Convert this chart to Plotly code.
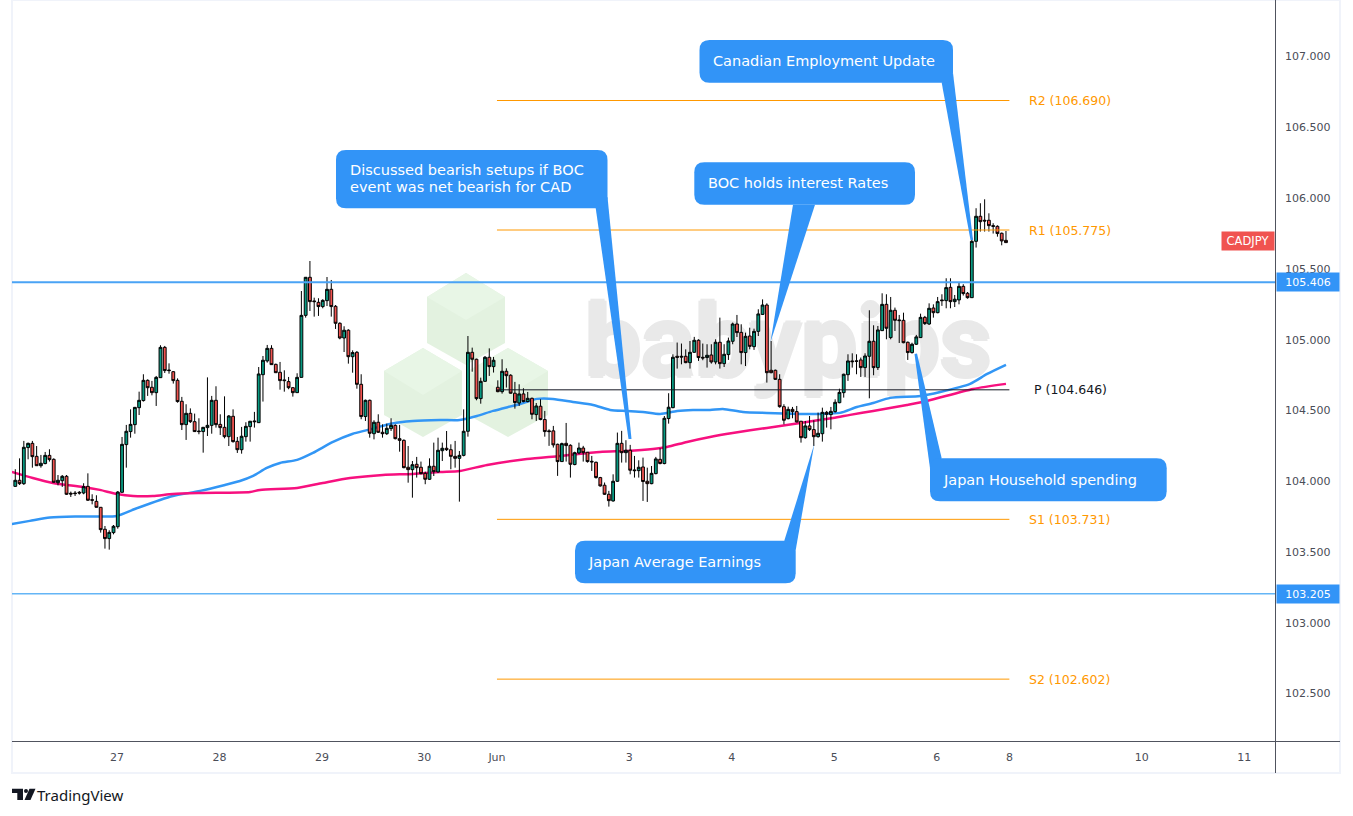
import plotly.graph_objects as go

# CADJPY 1h candles
opens = [
    103.964,104.007,103.983,104.238,104.268,104.176,104.110,104.125,104.183,104.155,
    103.990,104.004,104.035,103.915,103.917,103.922,103.917,103.964,103.870,103.858,
    103.816,103.661,103.595,103.637,103.679,103.922,104.259,104.351,104.400,104.520,
    104.570,104.713,104.664,104.626,104.732,104.946,104.786,104.774,104.713,104.565,
    104.400,104.480,104.421,104.355,104.351,104.379,104.395,104.572,104.402,104.381,
    104.315,104.459,104.282,104.223,104.315,104.386,104.426,104.414,104.753,104.850,
    104.939,104.826,104.770,104.716,104.704,104.661,104.626,104.734,105.172,105.441,
    105.274,105.264,105.234,105.276,105.356,105.236,105.116,105.012,105.067,104.880,
    104.911,104.685,104.457,104.572,104.336,104.417,104.346,104.336,104.372,104.395,
    104.301,104.289,104.099,104.082,104.120,104.099,104.056,104.014,104.106,104.066,
    104.216,104.233,104.223,104.176,104.162,104.183,104.353,104.911,104.862,104.584,
    104.706,104.876,104.810,104.664,104.633,104.777,104.749,104.622,104.553,104.617,
    104.563,104.586,104.471,104.530,104.436,104.356,104.356,104.261,104.139,104.268,
    104.254,104.118,104.200,104.235,104.205,104.141,104.134,104.026,103.972,103.908,
    103.861,104.000,104.268,104.202,104.219,104.080,104.075,104.101,104.000,103.983,
    104.054,104.155,104.125,104.443,104.520,104.883,104.883,104.883,104.838,104.911,
    104.996,104.876,104.874,104.892,104.843,104.982,104.831,104.895,104.989,105.111,
    105.052,104.909,105.026,104.951,105.059,105.179,105.245,104.784,104.784,104.720,
    104.527,104.442,104.508,104.492,104.424,104.308,104.391,104.365,104.315,104.336,
    104.487,104.471,104.492,104.555,104.626,104.753,104.850,104.850,104.857,104.803,
    104.883,104.989,104.803,105.064,105.250,105.015,105.208,105.140,105.137,104.982,
    104.909,104.968,105.015,105.158,105.111,105.224,105.191,105.281,105.276,105.370,
    105.269,105.281,105.377,105.328,105.297,105.695,105.872,105.844,105.844,105.806,
    105.801,105.752,105.702,
]
highs = [
    104.085,104.162,104.285,104.273,104.285,104.249,104.186,104.207,104.226,104.162,
    104.044,104.044,104.044,103.927,103.931,103.931,103.986,104.056,103.908,103.901,
    103.818,103.684,103.654,103.691,103.931,104.313,104.398,104.508,104.525,104.633,
    104.756,104.720,104.709,104.744,104.961,104.956,104.833,104.779,104.727,104.596,
    104.544,104.515,104.478,104.445,104.384,104.734,104.603,104.671,104.473,104.600,
    104.468,104.508,104.313,104.384,104.417,104.426,104.490,104.807,104.885,104.963,
    104.961,104.831,104.843,104.784,104.737,104.666,104.763,105.344,105.443,105.556,
    105.297,105.293,105.286,105.443,105.422,105.245,105.123,105.095,105.074,104.925,
    104.920,104.756,104.577,104.577,104.431,104.473,104.402,104.407,104.445,104.402,
    104.398,104.296,104.249,104.143,104.172,104.139,104.068,104.162,104.273,104.308,
    104.273,104.355,104.261,104.285,104.214,104.508,105.026,104.944,104.866,104.732,
    104.885,104.939,104.878,104.713,104.862,104.798,104.756,104.702,104.685,104.657,
    104.631,104.591,104.553,104.579,104.497,104.367,104.391,104.266,104.273,104.412,
    104.261,104.209,104.273,104.250,104.207,104.179,104.139,104.031,103.991,103.932,
    104.049,104.344,104.356,104.290,104.257,104.179,104.148,104.167,104.096,104.108,
    104.172,104.233,104.461,104.622,104.897,104.980,104.973,104.932,104.991,105.020,
    105.003,104.973,104.968,104.968,105.003,105.156,104.968,105.015,105.121,105.175,
    105.109,105.050,105.085,105.078,105.215,105.285,105.257,104.991,104.789,104.756,
    104.544,104.527,104.525,104.532,104.426,104.426,104.461,104.431,104.485,104.520,
    104.497,104.525,104.579,104.654,104.760,104.897,104.904,104.897,104.874,104.904,
    105.208,105.102,105.097,105.328,105.321,105.302,105.227,105.175,105.191,104.987,
    104.979,105.034,105.184,105.168,105.257,105.250,105.302,105.321,105.434,105.434,
    105.316,105.408,105.392,105.337,105.721,105.929,105.964,105.992,105.893,105.823,
    105.808,105.757,105.768,
]
lows = [
    103.960,103.974,103.974,104.155,104.096,104.108,104.096,104.120,104.139,103.990,
    103.971,103.960,103.903,103.889,103.896,103.906,103.908,103.861,103.837,103.814,
    103.637,103.524,103.517,103.625,103.665,103.920,104.096,104.308,104.336,104.468,
    104.563,104.603,104.607,104.532,104.730,104.765,104.760,104.690,104.555,104.362,
    104.292,104.412,104.348,104.332,104.202,104.320,104.336,104.379,104.327,104.303,
    104.249,104.273,104.200,104.195,104.280,104.280,104.379,104.412,104.563,104.838,
    104.822,104.765,104.647,104.633,104.650,104.598,104.624,104.732,105.156,105.203,
    105.163,105.168,105.222,105.238,105.163,105.076,105.003,104.913,104.831,104.767,
    104.654,104.438,104.426,104.308,104.296,104.341,104.308,104.327,104.355,104.296,
    104.209,104.092,103.990,103.884,104.026,104.049,103.979,104.009,104.037,104.061,
    104.143,104.214,104.085,104.096,103.856,104.176,104.315,104.774,104.572,104.548,
    104.702,104.744,104.768,104.629,104.619,104.662,104.619,104.513,104.532,104.558,
    104.558,104.438,104.426,104.431,104.315,104.250,104.238,104.038,104.137,104.139,
    104.026,104.113,104.191,104.139,104.132,104.073,104.019,103.962,103.903,103.821,
    103.856,103.995,104.132,104.132,104.049,104.026,104.026,103.861,103.854,103.979,
    104.049,104.120,104.120,104.407,104.516,104.796,104.826,104.834,104.796,104.907,
    104.850,104.855,104.803,104.831,104.826,104.796,104.807,104.857,104.968,105.019,
    104.826,104.814,104.932,104.928,105.026,105.175,104.697,104.763,104.716,104.520,
    104.402,104.438,104.445,104.416,104.273,104.301,104.355,104.249,104.308,104.280,
    104.379,104.367,104.485,104.551,104.591,104.709,104.803,104.756,104.737,104.737,
    104.586,104.749,104.786,105.062,105.003,105.003,105.062,104.977,104.975,104.857,
    104.902,104.963,105.012,105.104,105.104,105.156,105.187,105.239,105.222,105.222,
    105.231,105.250,105.312,105.290,105.295,105.651,105.764,105.764,105.764,105.750,
    105.728,105.667,105.684,
]
closes = [
    104.007,103.983,104.240,104.268,104.174,104.110,104.127,104.183,104.153,103.993,
    104.007,104.035,103.908,103.910,103.913,103.917,103.962,103.866,103.866,103.816,
    103.658,103.595,103.639,103.682,103.924,104.261,104.353,104.402,104.522,104.572,
    104.713,104.661,104.626,104.734,104.946,104.782,104.782,104.711,104.563,104.400,
    104.480,104.421,104.351,104.351,104.381,104.395,104.572,104.400,104.379,104.315,
    104.461,104.280,104.223,104.318,104.388,104.424,104.421,104.758,104.855,104.939,
    104.824,104.767,104.711,104.711,104.661,104.626,104.734,105.172,105.441,105.269,
    105.269,105.234,105.278,105.356,105.234,105.116,105.012,105.067,104.880,104.909,
    104.685,104.457,104.572,104.339,104.417,104.346,104.336,104.374,104.395,104.301,
    104.289,104.096,104.082,104.117,104.096,104.054,104.014,104.106,104.068,104.219,
    104.233,104.223,104.176,104.162,104.183,104.353,104.911,104.862,104.584,104.706,
    104.876,104.810,104.855,104.633,104.777,104.746,104.622,104.556,104.617,104.563,
    104.586,104.473,104.532,104.436,104.351,104.351,104.257,104.139,104.266,104.252,
    104.120,104.202,104.235,104.202,104.139,104.137,104.026,103.967,103.908,103.863,
    104.000,104.268,104.202,104.219,104.078,104.075,104.099,103.998,103.983,104.056,
    104.158,104.125,104.445,104.523,104.876,104.876,104.878,104.838,104.911,104.996,
    104.874,104.871,104.890,104.843,104.982,104.831,104.897,104.991,105.111,105.050,
    104.909,105.024,104.953,105.059,105.182,105.245,104.767,104.767,104.720,104.527,
    104.431,104.508,104.492,104.419,104.308,104.391,104.365,104.315,104.339,104.487,
    104.473,104.494,104.558,104.628,104.756,104.850,104.845,104.848,104.803,104.885,
    104.989,104.803,105.069,105.250,105.081,105.208,105.137,105.135,104.979,104.909,
    104.968,105.020,105.158,105.114,105.222,105.191,105.269,105.276,105.368,105.269,
    105.286,105.377,105.326,105.297,105.695,105.872,105.834,105.839,105.806,105.801,
    105.750,105.698,105.686,
]
bars = list(range(len(closes)))

# moving averages, sampled along the lines
blue_ma_x = [-0.8,3.4,8.1,14,19.8,23.8,28,33.9,36.9,43.3,49.1,52.6,55.7,58.9,62,66,69.7,74.4,78.9,82.6,
             87.7,93.1,99.5,104.1,108.1,111.9,118.2,122.2,125.9,130.6,135.3,139.3,143.2,147,151,155,
             158.7,162.7,165.7,170.4,176,183.8,188.5,193.1,197.1,200.9,204.9,211.9,216.6,223.6,227.6,232]
blue_ma = [103.698,103.720,103.744,103.751,103.751,103.755,103.804,103.868,103.896,103.932,103.974,
           104.002,104.038,104.094,104.129,104.151,104.200,104.278,104.334,104.363,104.405,104.426,
           104.433,104.433,104.461,104.497,104.546,104.582,104.582,104.560,104.539,104.504,104.497,
           104.490,104.476,104.497,104.504,104.504,104.511,104.490,104.483,104.476,104.476,104.483,
           104.525,104.553,104.589,104.603,104.631,104.688,104.758,104.822]
pink_ma_x = [-0.8,4.1,8.8,15.9,19.8,23.8,27.6,32.2,36.9,43.3,55,57.3,66,72,78.4,86.1,93.1,99.5,104.1,
             110.5,119.8,127.6,136.9,143.2,149.3,152.6,157.3,162.7,168,176,183.8,191.5,195.5,200.9,
             208.8,213.5,224.3,232]
pink_ma = [104.066,104.023,103.988,103.960,103.939,103.910,103.896,103.896,103.910,103.917,103.924,
           103.939,103.953,103.988,104.023,104.045,104.052,104.066,104.073,104.115,104.158,104.179,
           104.207,104.214,104.228,104.242,104.278,104.313,104.341,104.377,104.412,104.447,104.469,
           104.497,104.539,104.567,104.652,104.688]

pivot_names = ["R2", "R1", "P", "S1", "S2"]
pivot_values = [106.690, 105.775, 104.646, 103.731, 102.602]
pivot_colors = ["#ff9800", "#ff9800", "#131722", "#ff9800", "#ff9800"]
pivot_start, pivot_end = 112.8, 232.8
level_values = [105.406, 103.205]

x_tick_pos = [23.8, 47.8, 71.8, 95.8, 112.8, 143.8, 167.8, 191.8, 215.8, 232.8, 263.8, 287.8]
x_tick_labels = ["27", "28", "29", "30", "Jun", "3", "4", "5", "6", "8", "10", "11"]
y_ticks = [102.5, 103.0, 103.5, 104.0, 104.5, 105.0, 105.5, 106.0, 106.5, 107.0]
y_tick_labels = ["102.500", "103.000", "103.500", "104.000", "104.500", "105.000",
                 "105.500", "106.000", "106.500", "107.000"]

X_RANGE = [-0.77, 295.0]
Y_RANGE = [102.165, 107.400]
FONT = "DejaVu Sans"
BLUE = "#3294f7"
AXIS = "#50535e"
TEXT = "#4a4d57"
WATERMARK = "#e9e9e9"


# drawings are placed by page pixels, plot area is 12..1275 x 0..741
def px(x):
    return (x - 12) / 1263


def py(y):
    return 1 - y / 741


def poly(points):
    return "M" + " L".join(f"{px(x):.5f},{py(y):.5f}" for x, y in points) + " Z"


def rounded(x0, y0, x1, y1, r):
    p = lambda x, y: f"{px(x):.5f},{py(y):.5f}"
    return (f"M{p(x0 + r, y0)} L{p(x1 - r, y0)} Q{p(x1, y0)} {p(x1, y0 + r)} "
            f"L{p(x1, y1 - r)} Q{p(x1, y1)} {p(x1 - r, y1)} L{p(x0 + r, y1)} "
            f"Q{p(x0, y1)} {p(x0, y1 - r)} L{p(x0, y0 + r)} Q{p(x0, y0)} {p(x0 + r, y0)} Z")


fig = go.Figure()

# watermark word sits on the lower axes so the candles stay on top of it
fig.add_trace(go.Scatter(x=[181], y=[104.92], mode="text", text=["babypips"], hoverinfo="skip",
                         textfont=dict(family="Liberation Sans Narrow, Roboto", size=100, color=WATERMARK, weight=700,
                                       shadow=f"2px 0 0 {WATERMARK}, -2px 0 0 {WATERMARK}, 0 2px 0 {WATERMARK}, 0 -2px 0 {WATERMARK}"),
                         showlegend=False))
fig.add_trace(go.Scatter(x=blue_ma_x, y=blue_ma, mode="lines", showlegend=False,
                         line=dict(color="#3296f5", width=2.5, shape="spline", smoothing=0.7)))
fig.add_trace(go.Scatter(x=pink_ma_x, y=pink_ma, mode="lines", showlegend=False,
                         line=dict(color="#f7107f", width=2.5, shape="spline", smoothing=0.7)))

fig.add_trace(go.Candlestick(
    x=bars, open=opens, high=highs, low=lows, close=closes,
    xaxis="x2", yaxis="y2", whiskerwidth=0, showlegend=False,
    increasing=dict(line=dict(color="#000000", width=1), fillcolor="#089981"),
    decreasing=dict(line=dict(color="#000000", width=1), fillcolor="#f05350"),
))

shapes = []

# frame and axis lines
shapes.append(dict(type="rect", xref="paper", yref="paper", x0=px(12), x1=px(1340), y0=py(773), y1=py(0),
                   line=dict(color="#f0f3fa", width=2), layer="below"))
shapes.append(dict(type="line", xref="paper", yref="paper", x0=px(1275.5), x1=px(1275.5), y0=py(773), y1=py(0),
                   line=dict(color=AXIS, width=1)))
shapes.append(dict(type="line", xref="paper", yref="paper", x0=px(12), x1=px(1340), y0=py(741.5), y1=py(741.5),
                   line=dict(color=AXIS, width=1)))

# green logo, full hexagon then the lighter top face
for cx, top, half, up, low, bot in [(466, 273, 39, 297, 343, 365), (423, 348, 39, 371, 415, 437), (508, 348, 40, 371, 415, 437)]:
    centre = top + 47
    shapes.append(dict(type="path", xref="paper", yref="paper", layer="below", fillcolor="#e3f2e0", line=dict(width=0),
                       path=poly([(cx, top), (cx + half, up), (cx + half, low), (cx, bot), (cx - half, low), (cx - half, up)])))
    shapes.append(dict(type="path", xref="paper", yref="paper", layer="below", fillcolor="#e8f6e6", line=dict(width=0),
                       path=poly([(cx, top), (cx + half, up), (cx, centre), (cx - half, up)])))

# pivots
for value, color in zip(pivot_values, pivot_colors):
    shapes.append(dict(type="line", xref="x", yref="y", x0=pivot_start, x1=pivot_end, y0=value, y1=value,
                       line=dict(color=color, width=1)))

# support / resistance
shapes.append(dict(type="line", xref="paper", yref="y", x0=0, x1=1, y0=level_values[0], y1=level_values[0],
                   line=dict(color="#4aa3f5", width=2)))
shapes.append(dict(type="line", xref="paper", yref="y", x0=0, x1=1, y0=level_values[1], y1=level_values[1],
                   line=dict(color="#64b5f6", width=1.5)))

# callouts: box, tail, text lines
callouts = [
    dict(box=(699.5, 40, 953, 82.7), tail=[(941.7, 82.7), (970.5, 240), (973, 240), (953, 73)],
         lines=[("Canadian Employment Update", 60.5)], tx=710.5),
    dict(box=(336, 150, 607.5, 208.3), tail=[(595.7, 208), (628.5, 439), (631.5, 439), (607.5, 197)],
         lines=[("Discussed bearish setups if BOC", 169.5), ("event was net bearish for CAD", 186.5)], tx=347.5),
    dict(box=(694.3, 162.3, 915, 204.7), tail=[(793, 204.7), (770.5, 342), (815, 204.7)],
         lines=[("BOC holds interest Rates", 182.5)], tx=705.5),
    dict(box=(575, 540.7, 795.7, 583.3), tail=[(784.3, 540.7), (814.3, 444), (795.7, 550)],
         lines=[("Japan Average Earnings", 562)], tx=586),
    dict(box=(930, 458.3, 1166.7, 501.3), tail=[(930, 468.3), (914.5, 354), (917, 353.5), (941.7, 458.3)],
         lines=[("Japan Household spending", 480)], tx=941),
]
annotations = []
for c in callouts:
    shapes.append(dict(type="path", xref="paper", yref="paper", fillcolor=BLUE, line=dict(width=0),
                       path=poly(c["tail"])))
    shapes.append(dict(type="path", xref="paper", yref="paper", fillcolor=BLUE, line=dict(width=0),
                       path=rounded(*c["box"], 10)))
    for line_text, line_y in c["lines"]:
        annotations.append(dict(xref="paper", yref="paper", x=px(c["tx"]), y=py(line_y), text=line_text, showarrow=False,
                                xanchor="left", yanchor="middle", align="left",
                                font=dict(family=FONT, size=14.5, color="#ffffff")))

# TradingView mark
shapes.append(dict(type="path", xref="paper", yref="paper", fillcolor="#131722", line=dict(width=0),
                   path=poly([(12, 788.7), (23, 788.7), (23, 800), (17.3, 800), (17.3, 793), (12, 793)])))
shapes.append(dict(type="circle", xref="paper", yref="paper", fillcolor="#131722", line=dict(width=0),
                   x0=px(24), x1=px(28), y0=py(793), y1=py(789)))
shapes.append(dict(type="path", xref="paper", yref="paper", fillcolor="#131722", line=dict(width=0),
                   path=poly([(29.5, 788.7), (35.5, 788.7), (30.5, 800), (24.5, 800)])))
annotations.append(dict(xref="paper", yref="paper", x=px(35), y=py(795), text="TradingView", showarrow=False,
                        xanchor="left", yanchor="middle", font=dict(family="Noto Sans", size=15, color="#131722")))

# pivot labels
for name, value, color in zip(pivot_names, pivot_values, pivot_colors):
    left = px(1032) if name == "P" else px(1027)
    annotations.append(dict(xref="paper", yref="y", x=left, y=value, text=f"{name} ({value:.3f})", showarrow=False,
                            xanchor="left", yanchor="middle", font=dict(family=FONT, size=12.5, color=color)))

# price tags
for value in level_values:
    annotations.append(dict(xref="paper", yref="y", x=px(1275.5), y=value, text=f"{value:.3f}", showarrow=False,
                            xanchor="left", yanchor="middle", width=62, height=18, bgcolor=BLUE, borderpad=0,
                            align="center", font=dict(family=FONT, size=11, color="#ffffff")))
annotations.append(dict(xref="paper", yref="paper", x=px(1275), y=py(241), text="CADJPY", showarrow=False,
                        xanchor="right", yanchor="middle", width=52, height=18, bgcolor="#f05350", borderpad=0,
                        align="center", font=dict(family=FONT, size=11.5, color="#ffffff")))

fig.update_layout(
    width=1353, height=816,
    margin=dict(l=12, r=78, t=0, b=75),
    paper_bgcolor="#ffffff", plot_bgcolor="#ffffff",
    showlegend=False, boxgap=0.06,
    shapes=shapes, annotations=annotations,
    xaxis=dict(range=X_RANGE, tickmode="array", tickvals=x_tick_pos, ticktext=x_tick_labels,
               showgrid=False, zeroline=False, showline=False, ticks="", ticklabelstandoff=8,
               rangeslider=dict(visible=False),
               tickfont=dict(family=FONT, size=11, color=TEXT)),
    yaxis=dict(range=Y_RANGE, side="right", tickmode="array", tickvals=y_ticks, ticktext=y_tick_labels,
               showgrid=False, zeroline=False, showline=False, ticks="", ticklabelstandoff=9,
               tickfont=dict(family=FONT, size=11, color=TEXT)),
    xaxis2=dict(range=X_RANGE, overlaying="x", visible=False, rangeslider=dict(visible=False)),
    yaxis2=dict(range=Y_RANGE, overlaying="y", visible=False),
)

fig.write_html("out.html", config=dict(displayModeBar=False),
               post_script="document.body.style.margin='0';")
